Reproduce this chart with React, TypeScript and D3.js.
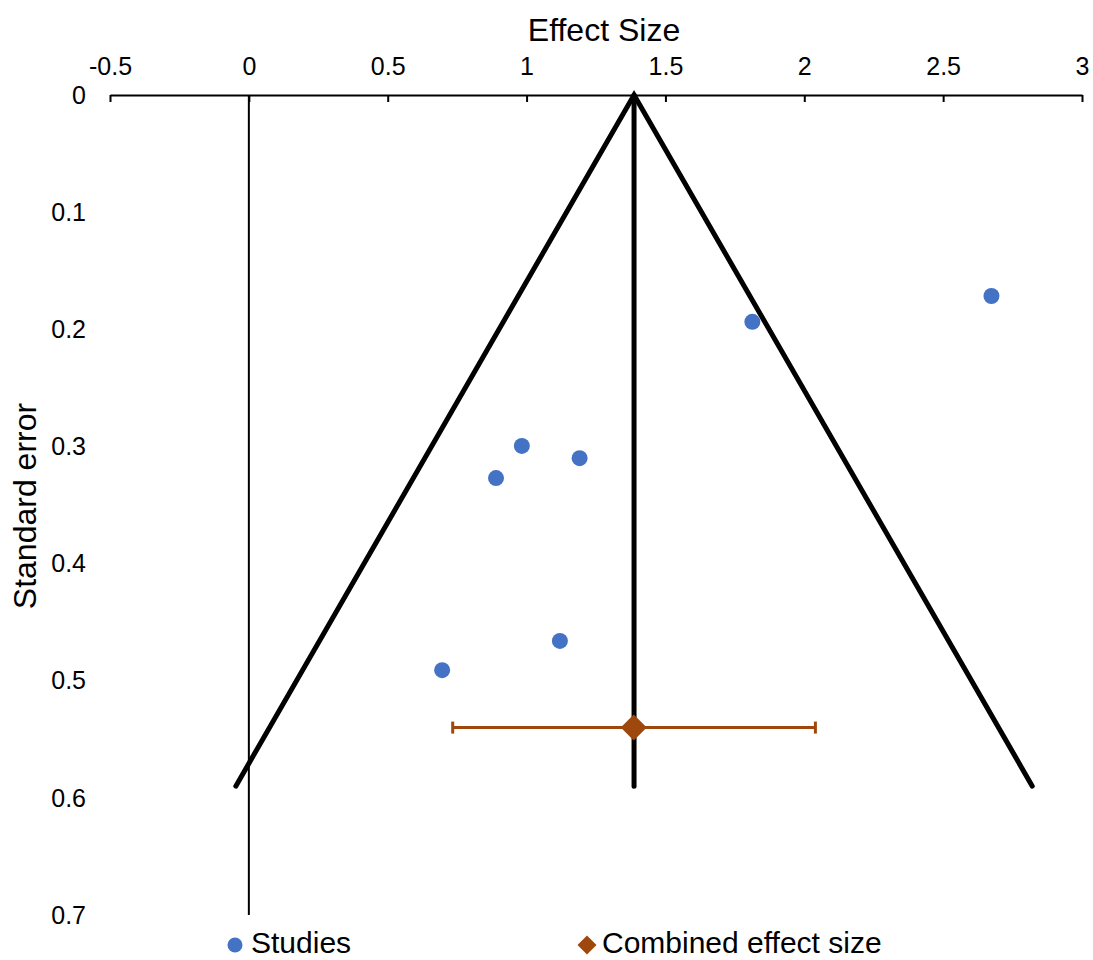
import { useEffect, useRef } from "react";
import * as d3 from "d3";

// studies (effect size, standard error)
const studyEffect = [2.674, 1.813, 0.983, 1.191, 0.89, 1.12, 0.696];
const studySE = [0.1716, 0.1936, 0.2996, 0.31, 0.327, 0.466, 0.491];

// combined effect and its interval
const combinedEffect = 1.386;
const combinedSE = 0.54;
const combinedLow = 0.734;
const combinedHigh = 2.04;

// funnel outline
const funnelEffect = [-0.047, 1.387, 2.821];
const funnelSE = [0.59, 0, 0.59];

const xTicks = [-0.5, 0, 0.5, 1, 1.5, 2, 2.5, 3];
const yTicks = [0, 0.1, 0.2, 0.3, 0.4, 0.5, 0.6, 0.7];

const width = 1093;
const height = 960;
const font = "Arial, 'Liberation Sans', sans-serif";

export default function App() {
  const svgRef = useRef<SVGSVGElement>(null);

  useEffect(() => {
    const svg = d3.select(svgRef.current);
    svg.selectAll("*").remove();

    const x = d3.scaleLinear().domain([-0.5, 3]).range([110, 1082]);
    const y = d3.scaleLinear().domain([0, 0.7]).range([95, 915]);

    // top axis
    const xAxis = d3
      .axisTop(x)
      .tickValues(xTicks)
      .tickSizeInner(-7)
      .tickSizeOuter(0)
      .tickPadding(20)
      .tickFormat((d) => String(d));
    const gx = svg.append("g").attr("transform", `translate(0,${y(0)})`).call(xAxis);
    gx.select(".domain").attr("stroke", "#000").attr("stroke-width", 2);
    gx.selectAll(".tick line").attr("stroke", "#000").attr("stroke-width", 2);
    gx.selectAll(".tick text")
      .attr("font-family", font)
      .attr("font-size", 25)
      .attr("fill", "#000");

    // y labels (axis crosses at x=0, labels sit at the left)
    svg
      .append("g")
      .selectAll("text")
      .data(yTicks)
      .join("text")
      .attr("x", 86)
      .attr("y", (d) => y(d))
      .attr("dy", "0.35em")
      .attr("text-anchor", "end")
      .attr("font-family", font)
      .attr("font-size", 25)
      .text((d) => String(d));

    // vertical axis line at 0
    svg
      .append("line")
      .attr("x1", x(0))
      .attr("x2", x(0))
      .attr("y1", y(0))
      .attr("y2", y(0.7))
      .attr("stroke", "#000")
      .attr("stroke-width", 2);

    // titles
    svg
      .append("text")
      .attr("x", 604)
      .attr("y", 41)
      .attr("text-anchor", "middle")
      .attr("font-family", font)
      .attr("font-size", 32)
      .text("Effect Size");
    svg
      .append("text")
      .attr("transform", `translate(36,506) rotate(-90)`)
      .attr("text-anchor", "middle")
      .attr("font-family", font)
      .attr("font-size", 32)
      .text("Standard error");

    // funnel
    const line = d3
      .line<number>()
      .x((d, i) => x(funnelEffect[i]))
      .y((d, i) => y(funnelSE[i]));
    svg
      .append("path")
      .attr("d", line(funnelEffect))
      .attr("fill", "none")
      .attr("stroke", "#000")
      .attr("stroke-width", 5)
      .attr("stroke-linecap", "round")
      .attr("stroke-linejoin", "miter");
    svg
      .append("line")
      .attr("x1", x(funnelEffect[1]))
      .attr("x2", x(funnelEffect[1]))
      .attr("y1", y(0))
      .attr("y2", y(funnelSE[0]))
      .attr("stroke", "#000")
      .attr("stroke-width", 5)
      .attr("stroke-linecap", "round");

    // combined effect error bar
    const brown = "#9E480E";
    const cy = y(combinedSE);
    svg
      .append("line")
      .attr("x1", x(combinedLow))
      .attr("x2", x(combinedHigh))
      .attr("y1", cy)
      .attr("y2", cy)
      .attr("stroke", brown)
      .attr("stroke-width", 3);
    [combinedLow, combinedHigh].forEach((v) => {
      svg
        .append("line")
        .attr("x1", x(v))
        .attr("x2", x(v))
        .attr("y1", cy - 6)
        .attr("y2", cy + 6)
        .attr("stroke", brown)
        .attr("stroke-width", 3);
    });
    svg
      .append("path")
      .attr("d", d3.symbol(d3.symbolDiamond2, 430)())
      .attr("transform", `translate(${x(combinedEffect)},${cy})`)
      .attr("fill", brown);

    // studies
    svg
      .append("g")
      .selectAll("circle")
      .data(studyEffect)
      .join("circle")
      .attr("cx", (d) => x(d))
      .attr("cy", (d, i) => y(studySE[i]))
      .attr("r", 8)
      .attr("fill", "#4472C4");

    // legend
    const lg = svg.append("g").attr("font-family", font).attr("font-size", 30);
    lg.append("circle").attr("cx", 235).attr("cy", 945).attr("r", 7.5).attr("fill", "#4472C4");
    lg.append("text").attr("x", 251).attr("y", 953).text("Studies");
    lg.append("path")
      .attr("d", d3.symbol(d3.symbolDiamond2, 230)())
      .attr("transform", `translate(587,945)`)
      .attr("fill", brown);
    lg.append("text").attr("x", 602).attr("y", 953).text("Combined effect size");
  }, []);

  return (
    <svg
      ref={svgRef}
      width={width}
      height={height}
      style={{ position: "absolute", left: 0, top: 0, background: "#fff" }}
    />
  );
}
